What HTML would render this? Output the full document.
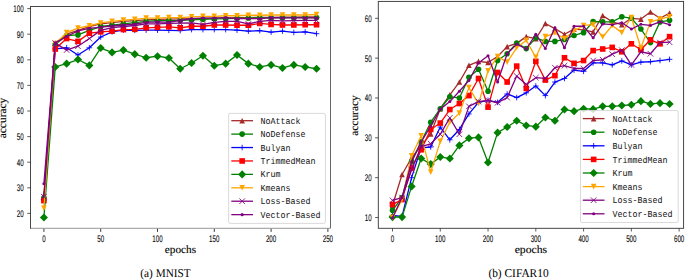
<!DOCTYPE html>
<html><head><meta charset="utf-8"><style>
html,body{margin:0;padding:0;background:#fff;}
body{width:685px;height:280px;overflow:hidden;}
svg{display:block;text-rendering:geometricPrecision;}
.tk{font-family:"Liberation Sans",sans-serif;font-size:9.6px;fill:#000;stroke:#000;stroke-width:0.1px;}
.lg{font-family:"Liberation Mono",monospace;font-size:9.1px;fill:#111;}
.lab{font-family:"Liberation Serif",serif;font-size:11.1px;fill:#000;stroke:#000;stroke-width:0.12px;}
.cap{font-family:"Liberation Serif",serif;font-size:12.0px;fill:#000;}
</style></head><body>
<svg width="685" height="280" viewBox="0 0 685 280">
<defs></defs>
<clipPath id="cl"><rect x="30.5" y="6.5" width="300.0" height="221.8"/></clipPath>
<clipPath id="cr"><rect x="378.3" y="1.4" width="305.3" height="226.9"/></clipPath>
<g clip-path="url(#cl)">
<path d="M43.90 194.97L55.26 43.16L66.62 34.20L77.98 30.36L89.34 26.52L100.70 23.96L112.06 22.68L123.42 21.40L134.78 20.63L146.14 19.86L157.50 19.35L168.86 19.10L180.22 18.84L191.58 18.58L202.94 18.33L214.30 18.07L225.66 17.82L237.02 17.56L248.38 17.56L259.74 17.30L271.10 17.30L282.46 17.05L293.82 17.05L305.18 16.79L316.54 16.79" stroke="#a52a2a" stroke-width="1.3" fill="none" stroke-linejoin="round" stroke-linecap="round"/>
<path d="M43.90 192.17L46.70 197.77L41.10 197.77Z" fill="#a52a2a"/>
<path d="M55.26 40.36L58.06 45.96L52.46 45.96Z" fill="#a52a2a"/>
<path d="M66.62 31.40L69.42 37.00L63.82 37.00Z" fill="#a52a2a"/>
<path d="M77.98 27.56L80.78 33.16L75.18 33.16Z" fill="#a52a2a"/>
<path d="M89.34 23.72L92.14 29.32L86.54 29.32Z" fill="#a52a2a"/>
<path d="M100.70 21.16L103.50 26.76L97.90 26.76Z" fill="#a52a2a"/>
<path d="M112.06 19.88L114.86 25.48L109.26 25.48Z" fill="#a52a2a"/>
<path d="M123.42 18.60L126.22 24.20L120.62 24.20Z" fill="#a52a2a"/>
<path d="M134.78 17.83L137.58 23.43L131.98 23.43Z" fill="#a52a2a"/>
<path d="M146.14 17.06L148.94 22.66L143.34 22.66Z" fill="#a52a2a"/>
<path d="M157.50 16.55L160.30 22.15L154.70 22.15Z" fill="#a52a2a"/>
<path d="M168.86 16.30L171.66 21.90L166.06 21.90Z" fill="#a52a2a"/>
<path d="M180.22 16.04L183.02 21.64L177.42 21.64Z" fill="#a52a2a"/>
<path d="M191.58 15.78L194.38 21.38L188.78 21.38Z" fill="#a52a2a"/>
<path d="M202.94 15.53L205.74 21.13L200.14 21.13Z" fill="#a52a2a"/>
<path d="M214.30 15.27L217.10 20.87L211.50 20.87Z" fill="#a52a2a"/>
<path d="M225.66 15.02L228.46 20.62L222.86 20.62Z" fill="#a52a2a"/>
<path d="M237.02 14.76L239.82 20.36L234.22 20.36Z" fill="#a52a2a"/>
<path d="M248.38 14.76L251.18 20.36L245.58 20.36Z" fill="#a52a2a"/>
<path d="M259.74 14.50L262.54 20.10L256.94 20.10Z" fill="#a52a2a"/>
<path d="M271.10 14.50L273.90 20.10L268.30 20.10Z" fill="#a52a2a"/>
<path d="M282.46 14.25L285.26 19.85L279.66 19.85Z" fill="#a52a2a"/>
<path d="M293.82 14.25L296.62 19.85L291.02 19.85Z" fill="#a52a2a"/>
<path d="M305.18 13.99L307.98 19.59L302.38 19.59Z" fill="#a52a2a"/>
<path d="M316.54 13.99L319.34 19.59L313.74 19.59Z" fill="#a52a2a"/>
<path d="M43.90 198.04L55.26 44.44L66.62 35.48L77.98 34.97L89.34 30.36L100.70 26.52L112.06 25.24L123.42 23.96L134.78 22.68L146.14 21.40L157.50 20.63L168.86 20.63L180.22 20.38L191.58 19.86L202.94 19.35L214.30 18.84L225.66 18.58L237.02 18.33L248.38 18.07L259.74 17.82L271.10 17.82L282.46 17.56L293.82 17.56L305.18 17.56L316.54 17.56" stroke="#008000" stroke-width="1.3" fill="none" stroke-linejoin="round" stroke-linecap="round"/>
<circle cx="43.90" cy="198.04" r="2.80" fill="#008000"/>
<circle cx="55.26" cy="44.44" r="2.80" fill="#008000"/>
<circle cx="66.62" cy="35.48" r="2.80" fill="#008000"/>
<circle cx="77.98" cy="34.97" r="2.80" fill="#008000"/>
<circle cx="89.34" cy="30.36" r="2.80" fill="#008000"/>
<circle cx="100.70" cy="26.52" r="2.80" fill="#008000"/>
<circle cx="112.06" cy="25.24" r="2.80" fill="#008000"/>
<circle cx="123.42" cy="23.96" r="2.80" fill="#008000"/>
<circle cx="134.78" cy="22.68" r="2.80" fill="#008000"/>
<circle cx="146.14" cy="21.40" r="2.80" fill="#008000"/>
<circle cx="157.50" cy="20.63" r="2.80" fill="#008000"/>
<circle cx="168.86" cy="20.63" r="2.80" fill="#008000"/>
<circle cx="180.22" cy="20.38" r="2.80" fill="#008000"/>
<circle cx="191.58" cy="19.86" r="2.80" fill="#008000"/>
<circle cx="202.94" cy="19.35" r="2.80" fill="#008000"/>
<circle cx="214.30" cy="18.84" r="2.80" fill="#008000"/>
<circle cx="225.66" cy="18.58" r="2.80" fill="#008000"/>
<circle cx="237.02" cy="18.33" r="2.80" fill="#008000"/>
<circle cx="248.38" cy="18.07" r="2.80" fill="#008000"/>
<circle cx="259.74" cy="17.82" r="2.80" fill="#008000"/>
<circle cx="271.10" cy="17.82" r="2.80" fill="#008000"/>
<circle cx="282.46" cy="17.56" r="2.80" fill="#008000"/>
<circle cx="293.82" cy="17.56" r="2.80" fill="#008000"/>
<circle cx="305.18" cy="17.56" r="2.80" fill="#008000"/>
<circle cx="316.54" cy="17.56" r="2.80" fill="#008000"/>
<path d="M43.90 200.60L55.26 48.79L66.62 47.77L77.98 54.94L89.34 47.77L100.70 37.02L112.06 31.90L123.42 30.10L134.78 30.36L146.14 30.10L157.50 30.10L168.86 30.36L180.22 30.62L191.58 29.59L202.94 29.59L214.30 29.59L225.66 29.59L237.02 30.10L248.38 31.13L259.74 30.62L271.10 32.15L282.46 31.13L293.82 32.41L305.18 31.90L316.54 33.69" stroke="#0000ff" stroke-width="1.3" fill="none" stroke-linejoin="round" stroke-linecap="round"/>
<path d="M41.10 200.60L46.70 200.60M43.90 197.80L43.90 203.40" stroke="#0000ff" stroke-width="0.85" fill="none"/>
<path d="M52.46 48.79L58.06 48.79M55.26 45.99L55.26 51.59" stroke="#0000ff" stroke-width="0.85" fill="none"/>
<path d="M63.82 47.77L69.42 47.77M66.62 44.97L66.62 50.57" stroke="#0000ff" stroke-width="0.85" fill="none"/>
<path d="M75.18 54.94L80.78 54.94M77.98 52.14L77.98 57.74" stroke="#0000ff" stroke-width="0.85" fill="none"/>
<path d="M86.54 47.77L92.14 47.77M89.34 44.97L89.34 50.57" stroke="#0000ff" stroke-width="0.85" fill="none"/>
<path d="M97.90 37.02L103.50 37.02M100.70 34.22L100.70 39.82" stroke="#0000ff" stroke-width="0.85" fill="none"/>
<path d="M109.26 31.90L114.86 31.90M112.06 29.10L112.06 34.70" stroke="#0000ff" stroke-width="0.85" fill="none"/>
<path d="M120.62 30.10L126.22 30.10M123.42 27.30L123.42 32.90" stroke="#0000ff" stroke-width="0.85" fill="none"/>
<path d="M131.98 30.36L137.58 30.36M134.78 27.56L134.78 33.16" stroke="#0000ff" stroke-width="0.85" fill="none"/>
<path d="M143.34 30.10L148.94 30.10M146.14 27.30L146.14 32.90" stroke="#0000ff" stroke-width="0.85" fill="none"/>
<path d="M154.70 30.10L160.30 30.10M157.50 27.30L157.50 32.90" stroke="#0000ff" stroke-width="0.85" fill="none"/>
<path d="M166.06 30.36L171.66 30.36M168.86 27.56L168.86 33.16" stroke="#0000ff" stroke-width="0.85" fill="none"/>
<path d="M177.42 30.62L183.02 30.62M180.22 27.82L180.22 33.42" stroke="#0000ff" stroke-width="0.85" fill="none"/>
<path d="M188.78 29.59L194.38 29.59M191.58 26.79L191.58 32.39" stroke="#0000ff" stroke-width="0.85" fill="none"/>
<path d="M200.14 29.59L205.74 29.59M202.94 26.79L202.94 32.39" stroke="#0000ff" stroke-width="0.85" fill="none"/>
<path d="M211.50 29.59L217.10 29.59M214.30 26.79L214.30 32.39" stroke="#0000ff" stroke-width="0.85" fill="none"/>
<path d="M222.86 29.59L228.46 29.59M225.66 26.79L225.66 32.39" stroke="#0000ff" stroke-width="0.85" fill="none"/>
<path d="M234.22 30.10L239.82 30.10M237.02 27.30L237.02 32.90" stroke="#0000ff" stroke-width="0.85" fill="none"/>
<path d="M245.58 31.13L251.18 31.13M248.38 28.33L248.38 33.93" stroke="#0000ff" stroke-width="0.85" fill="none"/>
<path d="M256.94 30.62L262.54 30.62M259.74 27.82L259.74 33.42" stroke="#0000ff" stroke-width="0.85" fill="none"/>
<path d="M268.30 32.15L273.90 32.15M271.10 29.35L271.10 34.95" stroke="#0000ff" stroke-width="0.85" fill="none"/>
<path d="M279.66 31.13L285.26 31.13M282.46 28.33L282.46 33.93" stroke="#0000ff" stroke-width="0.85" fill="none"/>
<path d="M291.02 32.41L296.62 32.41M293.82 29.61L293.82 35.21" stroke="#0000ff" stroke-width="0.85" fill="none"/>
<path d="M302.38 31.90L307.98 31.90M305.18 29.10L305.18 34.70" stroke="#0000ff" stroke-width="0.85" fill="none"/>
<path d="M313.74 33.69L319.34 33.69M316.54 30.89L316.54 36.49" stroke="#0000ff" stroke-width="0.85" fill="none"/>
<path d="M43.90 200.60L55.26 49.05L66.62 38.55L77.98 41.37L89.34 33.18L100.70 31.90L112.06 31.13L123.42 29.59L134.78 29.34L146.14 27.80L157.50 27.29L168.86 26.78L180.22 27.80L191.58 26.26L202.94 26.26L214.30 24.98L225.66 24.98L237.02 25.24L248.38 25.24L259.74 23.45L271.10 24.47L282.46 24.98L293.82 24.98L305.18 24.73L316.54 24.73" stroke="#ff0000" stroke-width="1.3" fill="none" stroke-linejoin="round" stroke-linecap="round"/>
<rect x="41.10" y="197.80" width="5.60" height="5.60" fill="#ff0000"/>
<rect x="52.46" y="46.25" width="5.60" height="5.60" fill="#ff0000"/>
<rect x="63.82" y="35.75" width="5.60" height="5.60" fill="#ff0000"/>
<rect x="75.18" y="38.57" width="5.60" height="5.60" fill="#ff0000"/>
<rect x="86.54" y="30.38" width="5.60" height="5.60" fill="#ff0000"/>
<rect x="97.90" y="29.10" width="5.60" height="5.60" fill="#ff0000"/>
<rect x="109.26" y="28.33" width="5.60" height="5.60" fill="#ff0000"/>
<rect x="120.62" y="26.79" width="5.60" height="5.60" fill="#ff0000"/>
<rect x="131.98" y="26.54" width="5.60" height="5.60" fill="#ff0000"/>
<rect x="143.34" y="25.00" width="5.60" height="5.60" fill="#ff0000"/>
<rect x="154.70" y="24.49" width="5.60" height="5.60" fill="#ff0000"/>
<rect x="166.06" y="23.98" width="5.60" height="5.60" fill="#ff0000"/>
<rect x="177.42" y="25.00" width="5.60" height="5.60" fill="#ff0000"/>
<rect x="188.78" y="23.46" width="5.60" height="5.60" fill="#ff0000"/>
<rect x="200.14" y="23.46" width="5.60" height="5.60" fill="#ff0000"/>
<rect x="211.50" y="22.18" width="5.60" height="5.60" fill="#ff0000"/>
<rect x="222.86" y="22.18" width="5.60" height="5.60" fill="#ff0000"/>
<rect x="234.22" y="22.44" width="5.60" height="5.60" fill="#ff0000"/>
<rect x="245.58" y="22.44" width="5.60" height="5.60" fill="#ff0000"/>
<rect x="256.94" y="20.65" width="5.60" height="5.60" fill="#ff0000"/>
<rect x="268.30" y="21.67" width="5.60" height="5.60" fill="#ff0000"/>
<rect x="279.66" y="22.18" width="5.60" height="5.60" fill="#ff0000"/>
<rect x="291.02" y="22.18" width="5.60" height="5.60" fill="#ff0000"/>
<rect x="302.38" y="21.93" width="5.60" height="5.60" fill="#ff0000"/>
<rect x="313.74" y="21.93" width="5.60" height="5.60" fill="#ff0000"/>
<path d="M43.90 217.50L55.26 66.97L66.62 63.64L77.98 59.54L89.34 65.43L100.70 48.02L112.06 52.38L123.42 50.07L134.78 54.17L146.14 57.75L157.50 56.22L168.86 58.01L180.22 68.76L191.58 63.00L202.94 55.70L214.30 65.69L225.66 63.64L237.02 54.94L248.38 63.64L259.74 66.97L271.10 64.92L282.46 67.99L293.82 64.92L305.18 66.97L316.54 68.76" stroke="#008000" stroke-width="1.3" fill="none" stroke-linejoin="round" stroke-linecap="round"/>
<path d="M43.90 213.44L47.96 217.50L43.90 221.56L39.84 217.50Z" fill="#008000"/>
<path d="M55.26 62.91L59.32 66.97L55.26 71.03L51.20 66.97Z" fill="#008000"/>
<path d="M66.62 59.58L70.68 63.64L66.62 67.70L62.56 63.64Z" fill="#008000"/>
<path d="M77.98 55.48L82.04 59.54L77.98 63.60L73.92 59.54Z" fill="#008000"/>
<path d="M89.34 61.37L93.40 65.43L89.34 69.49L85.28 65.43Z" fill="#008000"/>
<path d="M100.70 43.96L104.76 48.02L100.70 52.08L96.64 48.02Z" fill="#008000"/>
<path d="M112.06 48.32L116.12 52.38L112.06 56.44L108.00 52.38Z" fill="#008000"/>
<path d="M123.42 46.01L127.48 50.07L123.42 54.13L119.36 50.07Z" fill="#008000"/>
<path d="M134.78 50.11L138.84 54.17L134.78 58.23L130.72 54.17Z" fill="#008000"/>
<path d="M146.14 53.69L150.20 57.75L146.14 61.81L142.08 57.75Z" fill="#008000"/>
<path d="M157.50 52.16L161.56 56.22L157.50 60.28L153.44 56.22Z" fill="#008000"/>
<path d="M168.86 53.95L172.92 58.01L168.86 62.07L164.80 58.01Z" fill="#008000"/>
<path d="M180.22 64.70L184.28 68.76L180.22 72.82L176.16 68.76Z" fill="#008000"/>
<path d="M191.58 58.94L195.64 63.00L191.58 67.06L187.52 63.00Z" fill="#008000"/>
<path d="M202.94 51.64L207.00 55.70L202.94 59.76L198.88 55.70Z" fill="#008000"/>
<path d="M214.30 61.63L218.36 65.69L214.30 69.75L210.24 65.69Z" fill="#008000"/>
<path d="M225.66 59.58L229.72 63.64L225.66 67.70L221.60 63.64Z" fill="#008000"/>
<path d="M237.02 50.88L241.08 54.94L237.02 59.00L232.96 54.94Z" fill="#008000"/>
<path d="M248.38 59.58L252.44 63.64L248.38 67.70L244.32 63.64Z" fill="#008000"/>
<path d="M259.74 62.91L263.80 66.97L259.74 71.03L255.68 66.97Z" fill="#008000"/>
<path d="M271.10 60.86L275.16 64.92L271.10 68.98L267.04 64.92Z" fill="#008000"/>
<path d="M282.46 63.93L286.52 67.99L282.46 72.05L278.40 67.99Z" fill="#008000"/>
<path d="M293.82 60.86L297.88 64.92L293.82 68.98L289.76 64.92Z" fill="#008000"/>
<path d="M305.18 62.91L309.24 66.97L305.18 71.03L301.12 66.97Z" fill="#008000"/>
<path d="M316.54 64.70L320.60 68.76L316.54 72.82L312.48 68.76Z" fill="#008000"/>
<path d="M43.90 208.28L55.26 43.67L66.62 32.66L77.98 28.06L89.34 25.75L100.70 22.94L112.06 21.40L123.42 20.12L134.78 19.35L146.14 18.07L157.50 18.07L168.86 17.56L180.22 17.56L191.58 16.79L202.94 16.28L214.30 16.28L225.66 15.77L237.02 15.77L248.38 15.26L259.74 15.26L271.10 15.00L282.46 15.00L293.82 15.00L305.18 15.00L316.54 14.49" stroke="#ffa500" stroke-width="1.3" fill="none" stroke-linejoin="round" stroke-linecap="round"/>
<path d="M43.90 211.08L46.70 205.48L41.10 205.48Z" fill="#ffa500"/>
<path d="M55.26 46.47L58.06 40.87L52.46 40.87Z" fill="#ffa500"/>
<path d="M66.62 35.46L69.42 29.86L63.82 29.86Z" fill="#ffa500"/>
<path d="M77.98 30.86L80.78 25.26L75.18 25.26Z" fill="#ffa500"/>
<path d="M89.34 28.55L92.14 22.95L86.54 22.95Z" fill="#ffa500"/>
<path d="M100.70 25.74L103.50 20.14L97.90 20.14Z" fill="#ffa500"/>
<path d="M112.06 24.20L114.86 18.60L109.26 18.60Z" fill="#ffa500"/>
<path d="M123.42 22.92L126.22 17.32L120.62 17.32Z" fill="#ffa500"/>
<path d="M134.78 22.15L137.58 16.55L131.98 16.55Z" fill="#ffa500"/>
<path d="M146.14 20.87L148.94 15.27L143.34 15.27Z" fill="#ffa500"/>
<path d="M157.50 20.87L160.30 15.27L154.70 15.27Z" fill="#ffa500"/>
<path d="M168.86 20.36L171.66 14.76L166.06 14.76Z" fill="#ffa500"/>
<path d="M180.22 20.36L183.02 14.76L177.42 14.76Z" fill="#ffa500"/>
<path d="M191.58 19.59L194.38 13.99L188.78 13.99Z" fill="#ffa500"/>
<path d="M202.94 19.08L205.74 13.48L200.14 13.48Z" fill="#ffa500"/>
<path d="M214.30 19.08L217.10 13.48L211.50 13.48Z" fill="#ffa500"/>
<path d="M225.66 18.57L228.46 12.97L222.86 12.97Z" fill="#ffa500"/>
<path d="M237.02 18.57L239.82 12.97L234.22 12.97Z" fill="#ffa500"/>
<path d="M248.38 18.06L251.18 12.46L245.58 12.46Z" fill="#ffa500"/>
<path d="M259.74 18.06L262.54 12.46L256.94 12.46Z" fill="#ffa500"/>
<path d="M271.10 17.80L273.90 12.20L268.30 12.20Z" fill="#ffa500"/>
<path d="M282.46 17.80L285.26 12.20L279.66 12.20Z" fill="#ffa500"/>
<path d="M293.82 17.80L296.62 12.20L291.02 12.20Z" fill="#ffa500"/>
<path d="M305.18 17.80L307.98 12.20L302.38 12.20Z" fill="#ffa500"/>
<path d="M316.54 17.29L319.34 11.69L313.74 11.69Z" fill="#ffa500"/>
<path d="M43.90 196.76L55.26 43.16L66.62 50.07L77.98 46.23L89.34 38.55L100.70 30.36L112.06 27.54L123.42 26.52L134.78 25.50L146.14 23.96L157.50 23.96L168.86 23.45L180.22 23.19L191.58 22.94L202.94 24.47L214.30 22.42L225.66 21.40L237.02 21.40L248.38 23.96L259.74 21.40L271.10 20.38L282.46 20.89L293.82 20.63L305.18 20.38L316.54 20.38" stroke="#800080" stroke-width="1.3" fill="none" stroke-linejoin="round" stroke-linecap="round"/>
<path d="M41.10 193.96L46.70 199.56M41.10 199.56L46.70 193.96" stroke="#800080" stroke-width="0.85" fill="none"/>
<path d="M52.46 40.36L58.06 45.96M52.46 45.96L58.06 40.36" stroke="#800080" stroke-width="0.85" fill="none"/>
<path d="M63.82 47.27L69.42 52.87M63.82 52.87L69.42 47.27" stroke="#800080" stroke-width="0.85" fill="none"/>
<path d="M75.18 43.43L80.78 49.03M75.18 49.03L80.78 43.43" stroke="#800080" stroke-width="0.85" fill="none"/>
<path d="M86.54 35.75L92.14 41.35M86.54 41.35L92.14 35.75" stroke="#800080" stroke-width="0.85" fill="none"/>
<path d="M97.90 27.56L103.50 33.16M97.90 33.16L103.50 27.56" stroke="#800080" stroke-width="0.85" fill="none"/>
<path d="M109.26 24.74L114.86 30.34M109.26 30.34L114.86 24.74" stroke="#800080" stroke-width="0.85" fill="none"/>
<path d="M120.62 23.72L126.22 29.32M120.62 29.32L126.22 23.72" stroke="#800080" stroke-width="0.85" fill="none"/>
<path d="M131.98 22.70L137.58 28.30M131.98 28.30L137.58 22.70" stroke="#800080" stroke-width="0.85" fill="none"/>
<path d="M143.34 21.16L148.94 26.76M143.34 26.76L148.94 21.16" stroke="#800080" stroke-width="0.85" fill="none"/>
<path d="M154.70 21.16L160.30 26.76M154.70 26.76L160.30 21.16" stroke="#800080" stroke-width="0.85" fill="none"/>
<path d="M166.06 20.65L171.66 26.25M166.06 26.25L171.66 20.65" stroke="#800080" stroke-width="0.85" fill="none"/>
<path d="M177.42 20.39L183.02 25.99M177.42 25.99L183.02 20.39" stroke="#800080" stroke-width="0.85" fill="none"/>
<path d="M188.78 20.14L194.38 25.74M188.78 25.74L194.38 20.14" stroke="#800080" stroke-width="0.85" fill="none"/>
<path d="M200.14 21.67L205.74 27.27M200.14 27.27L205.74 21.67" stroke="#800080" stroke-width="0.85" fill="none"/>
<path d="M211.50 19.62L217.10 25.22M211.50 25.22L217.10 19.62" stroke="#800080" stroke-width="0.85" fill="none"/>
<path d="M222.86 18.60L228.46 24.20M222.86 24.20L228.46 18.60" stroke="#800080" stroke-width="0.85" fill="none"/>
<path d="M234.22 18.60L239.82 24.20M234.22 24.20L239.82 18.60" stroke="#800080" stroke-width="0.85" fill="none"/>
<path d="M245.58 21.16L251.18 26.76M245.58 26.76L251.18 21.16" stroke="#800080" stroke-width="0.85" fill="none"/>
<path d="M256.94 18.60L262.54 24.20M256.94 24.20L262.54 18.60" stroke="#800080" stroke-width="0.85" fill="none"/>
<path d="M268.30 17.58L273.90 23.18M268.30 23.18L273.90 17.58" stroke="#800080" stroke-width="0.85" fill="none"/>
<path d="M279.66 18.09L285.26 23.69M279.66 23.69L285.26 18.09" stroke="#800080" stroke-width="0.85" fill="none"/>
<path d="M291.02 17.83L296.62 23.43M291.02 23.43L296.62 17.83" stroke="#800080" stroke-width="0.85" fill="none"/>
<path d="M302.38 17.58L307.98 23.18M302.38 23.18L307.98 17.58" stroke="#800080" stroke-width="0.85" fill="none"/>
<path d="M313.74 17.58L319.34 23.18M313.74 23.18L319.34 17.58" stroke="#800080" stroke-width="0.85" fill="none"/>
<path d="M43.90 183.70L55.26 42.90L66.62 36.50L77.98 30.87L89.34 28.31L100.70 27.03L112.06 26.01L123.42 24.98L134.78 24.22L146.14 22.42L157.50 21.91L168.86 22.42L180.22 20.38L191.58 18.58L202.94 18.07L214.30 18.07L225.66 17.56L237.02 18.58L248.38 18.58L259.74 18.58L271.10 17.56L282.46 17.82L293.82 17.82L305.18 17.82L316.54 17.82" stroke="#800080" stroke-width="1.3" fill="none" stroke-linejoin="round" stroke-linecap="round"/>
<circle cx="43.90" cy="183.70" r="1.54" fill="#800080"/>
<circle cx="55.26" cy="42.90" r="1.54" fill="#800080"/>
<circle cx="66.62" cy="36.50" r="1.54" fill="#800080"/>
<circle cx="77.98" cy="30.87" r="1.54" fill="#800080"/>
<circle cx="89.34" cy="28.31" r="1.54" fill="#800080"/>
<circle cx="100.70" cy="27.03" r="1.54" fill="#800080"/>
<circle cx="112.06" cy="26.01" r="1.54" fill="#800080"/>
<circle cx="123.42" cy="24.98" r="1.54" fill="#800080"/>
<circle cx="134.78" cy="24.22" r="1.54" fill="#800080"/>
<circle cx="146.14" cy="22.42" r="1.54" fill="#800080"/>
<circle cx="157.50" cy="21.91" r="1.54" fill="#800080"/>
<circle cx="168.86" cy="22.42" r="1.54" fill="#800080"/>
<circle cx="180.22" cy="20.38" r="1.54" fill="#800080"/>
<circle cx="191.58" cy="18.58" r="1.54" fill="#800080"/>
<circle cx="202.94" cy="18.07" r="1.54" fill="#800080"/>
<circle cx="214.30" cy="18.07" r="1.54" fill="#800080"/>
<circle cx="225.66" cy="17.56" r="1.54" fill="#800080"/>
<circle cx="237.02" cy="18.58" r="1.54" fill="#800080"/>
<circle cx="248.38" cy="18.58" r="1.54" fill="#800080"/>
<circle cx="259.74" cy="18.58" r="1.54" fill="#800080"/>
<circle cx="271.10" cy="17.56" r="1.54" fill="#800080"/>
<circle cx="282.46" cy="17.82" r="1.54" fill="#800080"/>
<circle cx="293.82" cy="17.82" r="1.54" fill="#800080"/>
<circle cx="305.18" cy="17.82" r="1.54" fill="#800080"/>
<circle cx="316.54" cy="17.82" r="1.54" fill="#800080"/>
</g>
<rect x="228.6" y="113.4" width="96.8" height="110.0" rx="1.5" fill="#ffffff" fill-opacity="0.8" stroke="#d6d6d6" stroke-width="0.9"/>
<path d="M231.3 120.70L253.0 120.70" stroke="#a52a2a" stroke-width="1.3"/>
<path d="M242.15 117.90L244.95 123.50L239.35 123.50Z" fill="#a52a2a"/>
<text x="260.4" y="123.80" class="lg" textLength="40.00" lengthAdjust="spacingAndGlyphs">NoAttack</text>
<path d="M231.3 134.12L253.0 134.12" stroke="#008000" stroke-width="1.3"/>
<circle cx="242.15" cy="134.12" r="2.80" fill="#008000"/>
<text x="260.4" y="137.22" class="lg" textLength="45.00" lengthAdjust="spacingAndGlyphs">NoDefense</text>
<path d="M231.3 147.54L253.0 147.54" stroke="#0000ff" stroke-width="1.3"/>
<path d="M239.35 147.54L244.95 147.54M242.15 144.74L242.15 150.34" stroke="#0000ff" stroke-width="0.85" fill="none"/>
<text x="260.4" y="150.64" class="lg" textLength="30.00" lengthAdjust="spacingAndGlyphs">Bulyan</text>
<path d="M231.3 160.96L253.0 160.96" stroke="#ff0000" stroke-width="1.3"/>
<rect x="239.35" y="158.16" width="5.60" height="5.60" fill="#ff0000"/>
<text x="260.4" y="164.06" class="lg" textLength="55.00" lengthAdjust="spacingAndGlyphs">TrimmedMean</text>
<path d="M231.3 174.38L253.0 174.38" stroke="#008000" stroke-width="1.3"/>
<path d="M242.15 170.32L246.21 174.38L242.15 178.44L238.09 174.38Z" fill="#008000"/>
<text x="260.4" y="177.48" class="lg" textLength="20.00" lengthAdjust="spacingAndGlyphs">Krum</text>
<path d="M231.3 187.80L253.0 187.80" stroke="#ffa500" stroke-width="1.3"/>
<path d="M242.15 190.60L244.95 185.00L239.35 185.00Z" fill="#ffa500"/>
<text x="260.4" y="190.90" class="lg" textLength="30.00" lengthAdjust="spacingAndGlyphs">Kmeans</text>
<path d="M231.3 201.22L253.0 201.22" stroke="#800080" stroke-width="1.3"/>
<path d="M239.35 198.42L244.95 204.02M239.35 204.02L244.95 198.42" stroke="#800080" stroke-width="0.85" fill="none"/>
<text x="260.4" y="204.32" class="lg" textLength="50.00" lengthAdjust="spacingAndGlyphs">Loss-Based</text>
<path d="M231.3 214.64L253.0 214.64" stroke="#800080" stroke-width="1.3"/>
<circle cx="242.15" cy="214.64" r="1.54" fill="#800080"/>
<text x="260.4" y="217.74" class="lg" textLength="60.00" lengthAdjust="spacingAndGlyphs">Vector-Based</text>
<path d="M30.5 6.5H330.5" stroke="#333" stroke-width="0.9" fill="none"/>
<path d="M330.5 6.5V228.3" stroke="#555" stroke-width="0.9" fill="none"/>
<path d="M30.5 228.3H330.5" stroke="#8a8a8a" stroke-width="0.9" fill="none"/>
<path d="M30.5 6.05V228.75" stroke="#333" stroke-width="0.9" fill="none"/>
<path d="M27.3 213.40H30.5" stroke="#333" stroke-width="0.8"/>
<text x="16.70" y="216.80" class="tk" textLength="6.90" lengthAdjust="spacingAndGlyphs">20</text>
<path d="M27.3 187.80H30.5" stroke="#333" stroke-width="0.8"/>
<text x="16.70" y="191.20" class="tk" textLength="6.90" lengthAdjust="spacingAndGlyphs">30</text>
<path d="M27.3 162.20H30.5" stroke="#333" stroke-width="0.8"/>
<text x="16.70" y="165.60" class="tk" textLength="6.90" lengthAdjust="spacingAndGlyphs">40</text>
<path d="M27.3 136.60H30.5" stroke="#333" stroke-width="0.8"/>
<text x="16.70" y="140.00" class="tk" textLength="6.90" lengthAdjust="spacingAndGlyphs">50</text>
<path d="M27.3 111.00H30.5" stroke="#333" stroke-width="0.8"/>
<text x="16.70" y="114.40" class="tk" textLength="6.90" lengthAdjust="spacingAndGlyphs">60</text>
<path d="M27.3 85.40H30.5" stroke="#333" stroke-width="0.8"/>
<text x="16.70" y="88.80" class="tk" textLength="6.90" lengthAdjust="spacingAndGlyphs">70</text>
<path d="M27.3 59.80H30.5" stroke="#333" stroke-width="0.8"/>
<text x="16.70" y="63.20" class="tk" textLength="6.90" lengthAdjust="spacingAndGlyphs">80</text>
<path d="M27.3 34.20H30.5" stroke="#333" stroke-width="0.8"/>
<text x="16.70" y="37.60" class="tk" textLength="6.90" lengthAdjust="spacingAndGlyphs">90</text>
<path d="M27.3 8.60H30.5" stroke="#333" stroke-width="0.8"/>
<text x="13.25" y="12.00" class="tk" textLength="10.35" lengthAdjust="spacingAndGlyphs">100</text>
<path d="M43.90 228.8V231.9" stroke="#222" stroke-width="0.9"/>
<text x="42.17" y="241.60" class="tk" textLength="3.45" lengthAdjust="spacingAndGlyphs">0</text>
<path d="M100.70 228.8V231.9" stroke="#222" stroke-width="0.9"/>
<text x="97.25" y="241.60" class="tk" textLength="6.90" lengthAdjust="spacingAndGlyphs">50</text>
<path d="M157.50 228.8V231.9" stroke="#222" stroke-width="0.9"/>
<text x="152.32" y="241.60" class="tk" textLength="10.35" lengthAdjust="spacingAndGlyphs">100</text>
<path d="M214.30 228.8V231.9" stroke="#222" stroke-width="0.9"/>
<text x="209.12" y="241.60" class="tk" textLength="10.35" lengthAdjust="spacingAndGlyphs">150</text>
<path d="M271.10 228.8V231.9" stroke="#222" stroke-width="0.9"/>
<text x="265.92" y="241.60" class="tk" textLength="10.35" lengthAdjust="spacingAndGlyphs">200</text>
<path d="M327.90 228.8V231.9" stroke="#222" stroke-width="0.9"/>
<text x="322.72" y="241.60" class="tk" textLength="10.35" lengthAdjust="spacingAndGlyphs">250</text>
<text x="180.5" y="253.2" class="lab" text-anchor="middle" textLength="31.3" lengthAdjust="spacingAndGlyphs">epochs</text>
<text transform="translate(6.3 118.0) rotate(-90)" class="lab" text-anchor="middle" x="0" y="0" textLength="40.6" lengthAdjust="spacingAndGlyphs">accuracy</text>
<text x="165.5" y="276.8" class="cap" text-anchor="middle" textLength="50.3" lengthAdjust="spacingAndGlyphs">(a) MNIST</text>
<g clip-path="url(#cr)">
<path d="M392.50 205.55L402.05 174.47L411.61 157.74L421.16 145.79L430.72 133.84L440.27 108.74L449.82 94.79L459.38 82.04L468.93 65.31L478.49 61.33L488.04 62.52L497.59 56.55L507.15 46.59L516.70 43.40L526.26 36.63L535.81 38.62L545.36 23.48L554.92 28.66L564.47 34.24L574.03 29.06L583.58 29.85L593.13 31.85L602.69 15.51L612.24 21.89L621.80 24.67L631.35 18.30L640.90 19.10L650.46 11.93L660.01 18.30L669.57 13.12" stroke="#a52a2a" stroke-width="1.3" fill="none" stroke-linejoin="round" stroke-linecap="round"/>
<path d="M392.50 202.75L395.30 208.35L389.70 208.35Z" fill="#a52a2a"/>
<path d="M402.05 171.67L404.85 177.27L399.25 177.27Z" fill="#a52a2a"/>
<path d="M411.61 154.94L414.41 160.54L408.81 160.54Z" fill="#a52a2a"/>
<path d="M421.16 142.99L423.96 148.59L418.36 148.59Z" fill="#a52a2a"/>
<path d="M430.72 131.04L433.52 136.64L427.92 136.64Z" fill="#a52a2a"/>
<path d="M440.27 105.94L443.07 111.54L437.47 111.54Z" fill="#a52a2a"/>
<path d="M449.82 91.99L452.62 97.59L447.02 97.59Z" fill="#a52a2a"/>
<path d="M459.38 79.24L462.18 84.84L456.58 84.84Z" fill="#a52a2a"/>
<path d="M468.93 62.51L471.73 68.11L466.13 68.11Z" fill="#a52a2a"/>
<path d="M478.49 58.53L481.29 64.13L475.69 64.13Z" fill="#a52a2a"/>
<path d="M488.04 59.72L490.84 65.32L485.24 65.32Z" fill="#a52a2a"/>
<path d="M497.59 53.75L500.39 59.35L494.79 59.35Z" fill="#a52a2a"/>
<path d="M507.15 43.79L509.95 49.39L504.35 49.39Z" fill="#a52a2a"/>
<path d="M516.70 40.60L519.50 46.20L513.90 46.20Z" fill="#a52a2a"/>
<path d="M526.26 33.83L529.06 39.43L523.46 39.43Z" fill="#a52a2a"/>
<path d="M535.81 35.82L538.61 41.42L533.01 41.42Z" fill="#a52a2a"/>
<path d="M545.36 20.68L548.16 26.28L542.56 26.28Z" fill="#a52a2a"/>
<path d="M554.92 25.86L557.72 31.46L552.12 31.46Z" fill="#a52a2a"/>
<path d="M564.47 31.44L567.27 37.04L561.67 37.04Z" fill="#a52a2a"/>
<path d="M574.03 26.26L576.83 31.86L571.23 31.86Z" fill="#a52a2a"/>
<path d="M583.58 27.05L586.38 32.65L580.78 32.65Z" fill="#a52a2a"/>
<path d="M593.13 29.05L595.93 34.65L590.33 34.65Z" fill="#a52a2a"/>
<path d="M602.69 12.71L605.49 18.31L599.89 18.31Z" fill="#a52a2a"/>
<path d="M612.24 19.09L615.04 24.69L609.44 24.69Z" fill="#a52a2a"/>
<path d="M621.80 21.87L624.60 27.47L619.00 27.47Z" fill="#a52a2a"/>
<path d="M631.35 15.50L634.15 21.10L628.55 21.10Z" fill="#a52a2a"/>
<path d="M640.90 16.30L643.70 21.90L638.10 21.90Z" fill="#a52a2a"/>
<path d="M650.46 9.13L653.26 14.73L647.66 14.73Z" fill="#a52a2a"/>
<path d="M660.01 15.50L662.81 21.10L657.21 21.10Z" fill="#a52a2a"/>
<path d="M669.57 10.32L672.37 15.92L666.77 15.92Z" fill="#a52a2a"/>
<path d="M392.50 210.33L402.05 197.58L411.61 161.72L421.16 141.80L430.72 122.28L440.27 108.74L449.82 96.78L459.38 97.98L468.93 77.26L478.49 69.30L488.04 91.21L497.59 60.53L507.15 53.76L516.70 43.00L526.26 48.58L535.81 37.82L545.36 41.41L554.92 41.41L564.47 39.42L574.03 35.43L583.58 32.64L593.13 21.49L602.69 21.89L612.24 21.89L621.80 16.71L631.35 18.30L640.90 29.06L650.46 42.60L660.01 21.89L669.57 20.29" stroke="#008000" stroke-width="1.3" fill="none" stroke-linejoin="round" stroke-linecap="round"/>
<circle cx="392.50" cy="210.33" r="2.80" fill="#008000"/>
<circle cx="402.05" cy="197.58" r="2.80" fill="#008000"/>
<circle cx="411.61" cy="161.72" r="2.80" fill="#008000"/>
<circle cx="421.16" cy="141.80" r="2.80" fill="#008000"/>
<circle cx="430.72" cy="122.28" r="2.80" fill="#008000"/>
<circle cx="440.27" cy="108.74" r="2.80" fill="#008000"/>
<circle cx="449.82" cy="96.78" r="2.80" fill="#008000"/>
<circle cx="459.38" cy="97.98" r="2.80" fill="#008000"/>
<circle cx="468.93" cy="77.26" r="2.80" fill="#008000"/>
<circle cx="478.49" cy="69.30" r="2.80" fill="#008000"/>
<circle cx="488.04" cy="91.21" r="2.80" fill="#008000"/>
<circle cx="497.59" cy="60.53" r="2.80" fill="#008000"/>
<circle cx="507.15" cy="53.76" r="2.80" fill="#008000"/>
<circle cx="516.70" cy="43.00" r="2.80" fill="#008000"/>
<circle cx="526.26" cy="48.58" r="2.80" fill="#008000"/>
<circle cx="535.81" cy="37.82" r="2.80" fill="#008000"/>
<circle cx="545.36" cy="41.41" r="2.80" fill="#008000"/>
<circle cx="554.92" cy="41.41" r="2.80" fill="#008000"/>
<circle cx="564.47" cy="39.42" r="2.80" fill="#008000"/>
<circle cx="574.03" cy="35.43" r="2.80" fill="#008000"/>
<circle cx="583.58" cy="32.64" r="2.80" fill="#008000"/>
<circle cx="593.13" cy="21.49" r="2.80" fill="#008000"/>
<circle cx="602.69" cy="21.89" r="2.80" fill="#008000"/>
<circle cx="612.24" cy="21.89" r="2.80" fill="#008000"/>
<circle cx="621.80" cy="16.71" r="2.80" fill="#008000"/>
<circle cx="631.35" cy="18.30" r="2.80" fill="#008000"/>
<circle cx="640.90" cy="29.06" r="2.80" fill="#008000"/>
<circle cx="650.46" cy="42.60" r="2.80" fill="#008000"/>
<circle cx="660.01" cy="21.89" r="2.80" fill="#008000"/>
<circle cx="669.57" cy="20.29" r="2.80" fill="#008000"/>
<path d="M392.50 215.51L402.05 216.30L411.61 177.66L421.16 147.78L430.72 146.98L440.27 127.06L449.82 139.81L459.38 129.45L468.93 113.92L478.49 102.36L488.04 100.37L497.59 102.36L507.15 94.00L516.70 97.58L526.26 92.80L535.81 86.03L545.36 95.59L554.92 82.04L564.47 78.46L574.03 70.09L583.58 71.29L593.13 62.92L602.69 62.92L612.24 64.91L621.80 60.93L631.35 64.91L640.90 62.12L650.46 61.73L660.01 60.53L669.57 59.34" stroke="#0000ff" stroke-width="1.3" fill="none" stroke-linejoin="round" stroke-linecap="round"/>
<path d="M389.70 215.51L395.30 215.51M392.50 212.71L392.50 218.31" stroke="#0000ff" stroke-width="0.85" fill="none"/>
<path d="M399.25 216.30L404.85 216.30M402.05 213.50L402.05 219.10" stroke="#0000ff" stroke-width="0.85" fill="none"/>
<path d="M408.81 177.66L414.41 177.66M411.61 174.86L411.61 180.46" stroke="#0000ff" stroke-width="0.85" fill="none"/>
<path d="M418.36 147.78L423.96 147.78M421.16 144.98L421.16 150.58" stroke="#0000ff" stroke-width="0.85" fill="none"/>
<path d="M427.92 146.98L433.52 146.98M430.72 144.18L430.72 149.78" stroke="#0000ff" stroke-width="0.85" fill="none"/>
<path d="M437.47 127.06L443.07 127.06M440.27 124.26L440.27 129.86" stroke="#0000ff" stroke-width="0.85" fill="none"/>
<path d="M447.02 139.81L452.62 139.81M449.82 137.01L449.82 142.61" stroke="#0000ff" stroke-width="0.85" fill="none"/>
<path d="M456.58 129.45L462.18 129.45M459.38 126.65L459.38 132.25" stroke="#0000ff" stroke-width="0.85" fill="none"/>
<path d="M466.13 113.92L471.73 113.92M468.93 111.12L468.93 116.72" stroke="#0000ff" stroke-width="0.85" fill="none"/>
<path d="M475.69 102.36L481.29 102.36M478.49 99.56L478.49 105.16" stroke="#0000ff" stroke-width="0.85" fill="none"/>
<path d="M485.24 100.37L490.84 100.37M488.04 97.57L488.04 103.17" stroke="#0000ff" stroke-width="0.85" fill="none"/>
<path d="M494.79 102.36L500.39 102.36M497.59 99.56L497.59 105.16" stroke="#0000ff" stroke-width="0.85" fill="none"/>
<path d="M504.35 94.00L509.95 94.00M507.15 91.20L507.15 96.80" stroke="#0000ff" stroke-width="0.85" fill="none"/>
<path d="M513.90 97.58L519.50 97.58M516.70 94.78L516.70 100.38" stroke="#0000ff" stroke-width="0.85" fill="none"/>
<path d="M523.46 92.80L529.06 92.80M526.26 90.00L526.26 95.60" stroke="#0000ff" stroke-width="0.85" fill="none"/>
<path d="M533.01 86.03L538.61 86.03M535.81 83.23L535.81 88.83" stroke="#0000ff" stroke-width="0.85" fill="none"/>
<path d="M542.56 95.59L548.16 95.59M545.36 92.79L545.36 98.39" stroke="#0000ff" stroke-width="0.85" fill="none"/>
<path d="M552.12 82.04L557.72 82.04M554.92 79.24L554.92 84.84" stroke="#0000ff" stroke-width="0.85" fill="none"/>
<path d="M561.67 78.46L567.27 78.46M564.47 75.66L564.47 81.26" stroke="#0000ff" stroke-width="0.85" fill="none"/>
<path d="M571.23 70.09L576.83 70.09M574.03 67.29L574.03 72.89" stroke="#0000ff" stroke-width="0.85" fill="none"/>
<path d="M580.78 71.29L586.38 71.29M583.58 68.49L583.58 74.09" stroke="#0000ff" stroke-width="0.85" fill="none"/>
<path d="M590.33 62.92L595.93 62.92M593.13 60.12L593.13 65.72" stroke="#0000ff" stroke-width="0.85" fill="none"/>
<path d="M599.89 62.92L605.49 62.92M602.69 60.12L602.69 65.72" stroke="#0000ff" stroke-width="0.85" fill="none"/>
<path d="M609.44 64.91L615.04 64.91M612.24 62.11L612.24 67.71" stroke="#0000ff" stroke-width="0.85" fill="none"/>
<path d="M619.00 60.93L624.60 60.93M621.80 58.13L621.80 63.73" stroke="#0000ff" stroke-width="0.85" fill="none"/>
<path d="M628.55 64.91L634.15 64.91M631.35 62.11L631.35 67.71" stroke="#0000ff" stroke-width="0.85" fill="none"/>
<path d="M638.10 62.12L643.70 62.12M640.90 59.32L640.90 64.92" stroke="#0000ff" stroke-width="0.85" fill="none"/>
<path d="M647.66 61.73L653.26 61.73M650.46 58.93L650.46 64.53" stroke="#0000ff" stroke-width="0.85" fill="none"/>
<path d="M657.21 60.53L662.81 60.53M660.01 57.73L660.01 63.33" stroke="#0000ff" stroke-width="0.85" fill="none"/>
<path d="M666.77 59.34L672.37 59.34M669.57 56.54L669.57 62.14" stroke="#0000ff" stroke-width="0.85" fill="none"/>
<path d="M392.50 204.35L402.05 199.57L411.61 167.70L421.16 149.77L430.72 129.45L440.27 123.08L449.82 109.53L459.38 103.56L468.93 95.59L478.49 78.46L488.04 107.14L497.59 72.48L507.15 82.04L516.70 66.11L526.26 88.42L535.81 61.33L545.36 80.05L554.92 75.67L564.47 57.74L574.03 63.32L583.58 60.53L593.13 50.57L602.69 48.98L612.24 47.38L621.80 51.77L631.35 43.80L640.90 49.77L650.46 39.81L660.01 43.80L669.57 36.63" stroke="#ff0000" stroke-width="1.3" fill="none" stroke-linejoin="round" stroke-linecap="round"/>
<rect x="389.70" y="201.55" width="5.60" height="5.60" fill="#ff0000"/>
<rect x="399.25" y="196.77" width="5.60" height="5.60" fill="#ff0000"/>
<rect x="408.81" y="164.90" width="5.60" height="5.60" fill="#ff0000"/>
<rect x="418.36" y="146.97" width="5.60" height="5.60" fill="#ff0000"/>
<rect x="427.92" y="126.65" width="5.60" height="5.60" fill="#ff0000"/>
<rect x="437.47" y="120.28" width="5.60" height="5.60" fill="#ff0000"/>
<rect x="447.02" y="106.73" width="5.60" height="5.60" fill="#ff0000"/>
<rect x="456.58" y="100.76" width="5.60" height="5.60" fill="#ff0000"/>
<rect x="466.13" y="92.79" width="5.60" height="5.60" fill="#ff0000"/>
<rect x="475.69" y="75.66" width="5.60" height="5.60" fill="#ff0000"/>
<rect x="485.24" y="104.34" width="5.60" height="5.60" fill="#ff0000"/>
<rect x="494.79" y="69.68" width="5.60" height="5.60" fill="#ff0000"/>
<rect x="504.35" y="79.24" width="5.60" height="5.60" fill="#ff0000"/>
<rect x="513.90" y="63.31" width="5.60" height="5.60" fill="#ff0000"/>
<rect x="523.46" y="85.62" width="5.60" height="5.60" fill="#ff0000"/>
<rect x="533.01" y="58.53" width="5.60" height="5.60" fill="#ff0000"/>
<rect x="542.56" y="77.25" width="5.60" height="5.60" fill="#ff0000"/>
<rect x="552.12" y="72.87" width="5.60" height="5.60" fill="#ff0000"/>
<rect x="561.67" y="54.94" width="5.60" height="5.60" fill="#ff0000"/>
<rect x="571.23" y="60.52" width="5.60" height="5.60" fill="#ff0000"/>
<rect x="580.78" y="57.73" width="5.60" height="5.60" fill="#ff0000"/>
<rect x="590.33" y="47.77" width="5.60" height="5.60" fill="#ff0000"/>
<rect x="599.89" y="46.18" width="5.60" height="5.60" fill="#ff0000"/>
<rect x="609.44" y="44.58" width="5.60" height="5.60" fill="#ff0000"/>
<rect x="619.00" y="48.97" width="5.60" height="5.60" fill="#ff0000"/>
<rect x="628.55" y="41.00" width="5.60" height="5.60" fill="#ff0000"/>
<rect x="638.10" y="46.97" width="5.60" height="5.60" fill="#ff0000"/>
<rect x="647.66" y="37.01" width="5.60" height="5.60" fill="#ff0000"/>
<rect x="657.21" y="41.00" width="5.60" height="5.60" fill="#ff0000"/>
<rect x="666.77" y="33.83" width="5.60" height="5.60" fill="#ff0000"/>
<path d="M392.50 217.10L402.05 217.10L411.61 186.42L421.16 158.54L430.72 164.11L440.27 156.94L449.82 158.54L459.38 145.39L468.93 138.22L478.49 137.42L488.04 162.52L497.59 132.64L507.15 127.06L516.70 120.69L526.26 125.47L535.81 126.66L545.36 117.50L554.92 120.69L564.47 109.53L574.03 111.13L583.58 108.74L593.13 109.14L602.69 106.35L612.24 106.35L621.80 105.55L631.35 104.75L640.90 101.17L650.46 103.96L660.01 103.16L669.57 103.96" stroke="#008000" stroke-width="1.3" fill="none" stroke-linejoin="round" stroke-linecap="round"/>
<path d="M392.50 213.04L396.56 217.10L392.50 221.16L388.44 217.10Z" fill="#008000"/>
<path d="M402.05 213.04L406.11 217.10L402.05 221.16L397.99 217.10Z" fill="#008000"/>
<path d="M411.61 182.36L415.67 186.42L411.61 190.48L407.55 186.42Z" fill="#008000"/>
<path d="M421.16 154.48L425.22 158.54L421.16 162.60L417.10 158.54Z" fill="#008000"/>
<path d="M430.72 160.05L434.78 164.11L430.72 168.17L426.66 164.11Z" fill="#008000"/>
<path d="M440.27 152.88L444.33 156.94L440.27 161.00L436.21 156.94Z" fill="#008000"/>
<path d="M449.82 154.48L453.88 158.54L449.82 162.60L445.76 158.54Z" fill="#008000"/>
<path d="M459.38 141.33L463.44 145.39L459.38 149.45L455.32 145.39Z" fill="#008000"/>
<path d="M468.93 134.16L472.99 138.22L468.93 142.28L464.87 138.22Z" fill="#008000"/>
<path d="M478.49 133.36L482.55 137.42L478.49 141.48L474.43 137.42Z" fill="#008000"/>
<path d="M488.04 158.46L492.10 162.52L488.04 166.58L483.98 162.52Z" fill="#008000"/>
<path d="M497.59 128.58L501.65 132.64L497.59 136.70L493.53 132.64Z" fill="#008000"/>
<path d="M507.15 123.00L511.21 127.06L507.15 131.12L503.09 127.06Z" fill="#008000"/>
<path d="M516.70 116.63L520.76 120.69L516.70 124.75L512.64 120.69Z" fill="#008000"/>
<path d="M526.26 121.41L530.32 125.47L526.26 129.53L522.20 125.47Z" fill="#008000"/>
<path d="M535.81 122.60L539.87 126.66L535.81 130.72L531.75 126.66Z" fill="#008000"/>
<path d="M545.36 113.44L549.42 117.50L545.36 121.56L541.30 117.50Z" fill="#008000"/>
<path d="M554.92 116.63L558.98 120.69L554.92 124.75L550.86 120.69Z" fill="#008000"/>
<path d="M564.47 105.47L568.53 109.53L564.47 113.59L560.41 109.53Z" fill="#008000"/>
<path d="M574.03 107.07L578.09 111.13L574.03 115.19L569.97 111.13Z" fill="#008000"/>
<path d="M583.58 104.68L587.64 108.74L583.58 112.80L579.52 108.74Z" fill="#008000"/>
<path d="M593.13 105.08L597.19 109.14L593.13 113.20L589.07 109.14Z" fill="#008000"/>
<path d="M602.69 102.29L606.75 106.35L602.69 110.41L598.63 106.35Z" fill="#008000"/>
<path d="M612.24 102.29L616.30 106.35L612.24 110.41L608.18 106.35Z" fill="#008000"/>
<path d="M621.80 101.49L625.86 105.55L621.80 109.61L617.74 105.55Z" fill="#008000"/>
<path d="M631.35 100.69L635.41 104.75L631.35 108.81L627.29 104.75Z" fill="#008000"/>
<path d="M640.90 97.11L644.96 101.17L640.90 105.23L636.84 101.17Z" fill="#008000"/>
<path d="M650.46 99.90L654.52 103.96L650.46 108.02L646.40 103.96Z" fill="#008000"/>
<path d="M660.01 99.10L664.07 103.16L660.01 107.22L655.95 103.16Z" fill="#008000"/>
<path d="M669.57 99.90L673.63 103.96L669.57 108.02L665.51 103.96Z" fill="#008000"/>
<path d="M392.50 217.50L402.05 199.57L411.61 155.75L421.16 135.83L430.72 172.08L440.27 141.41L449.82 122.28L459.38 113.12L468.93 87.62L478.49 103.56L488.04 70.89L497.59 56.55L507.15 62.12L516.70 47.78L526.26 40.21L535.81 57.34L545.36 36.63L554.92 33.04L564.47 38.62L574.03 31.05L583.58 25.47L593.13 24.67L602.69 37.02L612.24 25.47L621.80 32.64L631.35 17.50L640.90 47.78L650.46 21.89L660.01 19.10L669.57 16.71" stroke="#ffa500" stroke-width="1.3" fill="none" stroke-linejoin="round" stroke-linecap="round"/>
<path d="M392.50 220.30L395.30 214.70L389.70 214.70Z" fill="#ffa500"/>
<path d="M402.05 202.37L404.85 196.77L399.25 196.77Z" fill="#ffa500"/>
<path d="M411.61 158.55L414.41 152.95L408.81 152.95Z" fill="#ffa500"/>
<path d="M421.16 138.63L423.96 133.03L418.36 133.03Z" fill="#ffa500"/>
<path d="M430.72 174.88L433.52 169.28L427.92 169.28Z" fill="#ffa500"/>
<path d="M440.27 144.21L443.07 138.61L437.47 138.61Z" fill="#ffa500"/>
<path d="M449.82 125.08L452.62 119.48L447.02 119.48Z" fill="#ffa500"/>
<path d="M459.38 115.92L462.18 110.32L456.58 110.32Z" fill="#ffa500"/>
<path d="M468.93 90.42L471.73 84.82L466.13 84.82Z" fill="#ffa500"/>
<path d="M478.49 106.36L481.29 100.76L475.69 100.76Z" fill="#ffa500"/>
<path d="M488.04 73.69L490.84 68.09L485.24 68.09Z" fill="#ffa500"/>
<path d="M497.59 59.35L500.39 53.75L494.79 53.75Z" fill="#ffa500"/>
<path d="M507.15 64.92L509.95 59.32L504.35 59.32Z" fill="#ffa500"/>
<path d="M516.70 50.58L519.50 44.98L513.90 44.98Z" fill="#ffa500"/>
<path d="M526.26 43.01L529.06 37.41L523.46 37.41Z" fill="#ffa500"/>
<path d="M535.81 60.14L538.61 54.54L533.01 54.54Z" fill="#ffa500"/>
<path d="M545.36 39.43L548.16 33.83L542.56 33.83Z" fill="#ffa500"/>
<path d="M554.92 35.84L557.72 30.24L552.12 30.24Z" fill="#ffa500"/>
<path d="M564.47 41.42L567.27 35.82L561.67 35.82Z" fill="#ffa500"/>
<path d="M574.03 33.85L576.83 28.25L571.23 28.25Z" fill="#ffa500"/>
<path d="M583.58 28.27L586.38 22.67L580.78 22.67Z" fill="#ffa500"/>
<path d="M593.13 27.47L595.93 21.87L590.33 21.87Z" fill="#ffa500"/>
<path d="M602.69 39.82L605.49 34.22L599.89 34.22Z" fill="#ffa500"/>
<path d="M612.24 28.27L615.04 22.67L609.44 22.67Z" fill="#ffa500"/>
<path d="M621.80 35.44L624.60 29.84L619.00 29.84Z" fill="#ffa500"/>
<path d="M631.35 20.30L634.15 14.70L628.55 14.70Z" fill="#ffa500"/>
<path d="M640.90 50.58L643.70 44.98L638.10 44.98Z" fill="#ffa500"/>
<path d="M650.46 24.69L653.26 19.09L647.66 19.09Z" fill="#ffa500"/>
<path d="M660.01 21.90L662.81 16.30L657.21 16.30Z" fill="#ffa500"/>
<path d="M669.57 19.51L672.37 13.91L666.77 13.91Z" fill="#ffa500"/>
<path d="M392.50 200.37L402.05 197.58L411.61 169.69L421.16 146.58L430.72 143.80L440.27 134.23L449.82 117.90L459.38 134.23L468.93 106.35L478.49 101.57L488.04 100.37L497.59 102.76L507.15 97.58L516.70 76.07L526.26 84.43L535.81 77.66L545.36 78.46L554.92 67.70L564.47 65.71L574.03 68.50L583.58 68.50L593.13 60.53L602.69 59.73L612.24 54.16L621.80 50.17L631.35 64.91L640.90 51.77L650.46 53.76L660.01 42.60L669.57 42.20" stroke="#800080" stroke-width="1.3" fill="none" stroke-linejoin="round" stroke-linecap="round"/>
<path d="M389.70 197.57L395.30 203.17M389.70 203.17L395.30 197.57" stroke="#800080" stroke-width="0.85" fill="none"/>
<path d="M399.25 194.78L404.85 200.38M399.25 200.38L404.85 194.78" stroke="#800080" stroke-width="0.85" fill="none"/>
<path d="M408.81 166.89L414.41 172.49M408.81 172.49L414.41 166.89" stroke="#800080" stroke-width="0.85" fill="none"/>
<path d="M418.36 143.78L423.96 149.38M418.36 149.38L423.96 143.78" stroke="#800080" stroke-width="0.85" fill="none"/>
<path d="M427.92 141.00L433.52 146.60M427.92 146.60L433.52 141.00" stroke="#800080" stroke-width="0.85" fill="none"/>
<path d="M437.47 131.43L443.07 137.03M437.47 137.03L443.07 131.43" stroke="#800080" stroke-width="0.85" fill="none"/>
<path d="M447.02 115.10L452.62 120.70M447.02 120.70L452.62 115.10" stroke="#800080" stroke-width="0.85" fill="none"/>
<path d="M456.58 131.43L462.18 137.03M456.58 137.03L462.18 131.43" stroke="#800080" stroke-width="0.85" fill="none"/>
<path d="M466.13 103.55L471.73 109.15M466.13 109.15L471.73 103.55" stroke="#800080" stroke-width="0.85" fill="none"/>
<path d="M475.69 98.77L481.29 104.37M475.69 104.37L481.29 98.77" stroke="#800080" stroke-width="0.85" fill="none"/>
<path d="M485.24 97.57L490.84 103.17M485.24 103.17L490.84 97.57" stroke="#800080" stroke-width="0.85" fill="none"/>
<path d="M494.79 99.96L500.39 105.56M494.79 105.56L500.39 99.96" stroke="#800080" stroke-width="0.85" fill="none"/>
<path d="M504.35 94.78L509.95 100.38M504.35 100.38L509.95 94.78" stroke="#800080" stroke-width="0.85" fill="none"/>
<path d="M513.90 73.27L519.50 78.87M513.90 78.87L519.50 73.27" stroke="#800080" stroke-width="0.85" fill="none"/>
<path d="M523.46 81.63L529.06 87.23M523.46 87.23L529.06 81.63" stroke="#800080" stroke-width="0.85" fill="none"/>
<path d="M533.01 74.86L538.61 80.46M533.01 80.46L538.61 74.86" stroke="#800080" stroke-width="0.85" fill="none"/>
<path d="M542.56 75.66L548.16 81.26M542.56 81.26L548.16 75.66" stroke="#800080" stroke-width="0.85" fill="none"/>
<path d="M552.12 64.90L557.72 70.50M552.12 70.50L557.72 64.90" stroke="#800080" stroke-width="0.85" fill="none"/>
<path d="M561.67 62.91L567.27 68.51M561.67 68.51L567.27 62.91" stroke="#800080" stroke-width="0.85" fill="none"/>
<path d="M571.23 65.70L576.83 71.30M571.23 71.30L576.83 65.70" stroke="#800080" stroke-width="0.85" fill="none"/>
<path d="M580.78 65.70L586.38 71.30M580.78 71.30L586.38 65.70" stroke="#800080" stroke-width="0.85" fill="none"/>
<path d="M590.33 57.73L595.93 63.33M590.33 63.33L595.93 57.73" stroke="#800080" stroke-width="0.85" fill="none"/>
<path d="M599.89 56.93L605.49 62.53M599.89 62.53L605.49 56.93" stroke="#800080" stroke-width="0.85" fill="none"/>
<path d="M609.44 51.36L615.04 56.96M609.44 56.96L615.04 51.36" stroke="#800080" stroke-width="0.85" fill="none"/>
<path d="M619.00 47.37L624.60 52.97M619.00 52.97L624.60 47.37" stroke="#800080" stroke-width="0.85" fill="none"/>
<path d="M628.55 62.11L634.15 67.71M628.55 67.71L634.15 62.11" stroke="#800080" stroke-width="0.85" fill="none"/>
<path d="M638.10 48.97L643.70 54.57M638.10 54.57L643.70 48.97" stroke="#800080" stroke-width="0.85" fill="none"/>
<path d="M647.66 50.96L653.26 56.56M647.66 56.56L653.26 50.96" stroke="#800080" stroke-width="0.85" fill="none"/>
<path d="M657.21 39.80L662.81 45.40M657.21 45.40L662.81 39.80" stroke="#800080" stroke-width="0.85" fill="none"/>
<path d="M666.77 39.40L672.37 45.00M666.77 45.00L672.37 39.40" stroke="#800080" stroke-width="0.85" fill="none"/>
<path d="M392.50 217.90L402.05 197.58L411.61 161.72L421.16 141.80L430.72 126.27L440.27 109.14L449.82 101.57L459.38 91.21L468.93 80.45L478.49 62.92L488.04 55.75L497.59 82.04L507.15 53.76L516.70 44.20L526.26 48.98L535.81 34.24L545.36 48.58L554.92 27.86L564.47 47.78L574.03 26.27L583.58 26.27L593.13 37.82L602.69 23.88L612.24 24.67L621.80 22.68L631.35 29.06L640.90 24.28L650.46 25.47L660.01 21.89L669.57 24.67" stroke="#800080" stroke-width="1.3" fill="none" stroke-linejoin="round" stroke-linecap="round"/>
<circle cx="392.50" cy="217.90" r="1.54" fill="#800080"/>
<circle cx="402.05" cy="197.58" r="1.54" fill="#800080"/>
<circle cx="411.61" cy="161.72" r="1.54" fill="#800080"/>
<circle cx="421.16" cy="141.80" r="1.54" fill="#800080"/>
<circle cx="430.72" cy="126.27" r="1.54" fill="#800080"/>
<circle cx="440.27" cy="109.14" r="1.54" fill="#800080"/>
<circle cx="449.82" cy="101.57" r="1.54" fill="#800080"/>
<circle cx="459.38" cy="91.21" r="1.54" fill="#800080"/>
<circle cx="468.93" cy="80.45" r="1.54" fill="#800080"/>
<circle cx="478.49" cy="62.92" r="1.54" fill="#800080"/>
<circle cx="488.04" cy="55.75" r="1.54" fill="#800080"/>
<circle cx="497.59" cy="82.04" r="1.54" fill="#800080"/>
<circle cx="507.15" cy="53.76" r="1.54" fill="#800080"/>
<circle cx="516.70" cy="44.20" r="1.54" fill="#800080"/>
<circle cx="526.26" cy="48.98" r="1.54" fill="#800080"/>
<circle cx="535.81" cy="34.24" r="1.54" fill="#800080"/>
<circle cx="545.36" cy="48.58" r="1.54" fill="#800080"/>
<circle cx="554.92" cy="27.86" r="1.54" fill="#800080"/>
<circle cx="564.47" cy="47.78" r="1.54" fill="#800080"/>
<circle cx="574.03" cy="26.27" r="1.54" fill="#800080"/>
<circle cx="583.58" cy="26.27" r="1.54" fill="#800080"/>
<circle cx="593.13" cy="37.82" r="1.54" fill="#800080"/>
<circle cx="602.69" cy="23.88" r="1.54" fill="#800080"/>
<circle cx="612.24" cy="24.67" r="1.54" fill="#800080"/>
<circle cx="621.80" cy="22.68" r="1.54" fill="#800080"/>
<circle cx="631.35" cy="29.06" r="1.54" fill="#800080"/>
<circle cx="640.90" cy="24.28" r="1.54" fill="#800080"/>
<circle cx="650.46" cy="25.47" r="1.54" fill="#800080"/>
<circle cx="660.01" cy="21.89" r="1.54" fill="#800080"/>
<circle cx="669.57" cy="24.67" r="1.54" fill="#800080"/>
</g>
<rect x="580.5" y="110.5" width="97.7" height="112.0" rx="1.5" fill="#ffffff" fill-opacity="0.8" stroke="#d6d6d6" stroke-width="0.9"/>
<path d="M582.8 118.60L604.5 118.60" stroke="#a52a2a" stroke-width="1.3"/>
<path d="M593.65 115.80L596.45 121.40L590.85 121.40Z" fill="#a52a2a"/>
<text x="612.4" y="121.70" class="lg" textLength="40.00" lengthAdjust="spacingAndGlyphs">NoAttack</text>
<path d="M582.8 132.20L604.5 132.20" stroke="#008000" stroke-width="1.3"/>
<circle cx="593.65" cy="132.20" r="2.80" fill="#008000"/>
<text x="612.4" y="135.30" class="lg" textLength="45.00" lengthAdjust="spacingAndGlyphs">NoDefense</text>
<path d="M582.8 145.80L604.5 145.80" stroke="#0000ff" stroke-width="1.3"/>
<path d="M590.85 145.80L596.45 145.80M593.65 143.00L593.65 148.60" stroke="#0000ff" stroke-width="0.85" fill="none"/>
<text x="612.4" y="148.90" class="lg" textLength="30.00" lengthAdjust="spacingAndGlyphs">Bulyan</text>
<path d="M582.8 159.40L604.5 159.40" stroke="#ff0000" stroke-width="1.3"/>
<rect x="590.85" y="156.60" width="5.60" height="5.60" fill="#ff0000"/>
<text x="612.4" y="162.50" class="lg" textLength="55.00" lengthAdjust="spacingAndGlyphs">TrimmedMean</text>
<path d="M582.8 173.00L604.5 173.00" stroke="#008000" stroke-width="1.3"/>
<path d="M593.65 168.94L597.71 173.00L593.65 177.06L589.59 173.00Z" fill="#008000"/>
<text x="612.4" y="176.10" class="lg" textLength="20.00" lengthAdjust="spacingAndGlyphs">Krum</text>
<path d="M582.8 186.60L604.5 186.60" stroke="#ffa500" stroke-width="1.3"/>
<path d="M593.65 189.40L596.45 183.80L590.85 183.80Z" fill="#ffa500"/>
<text x="612.4" y="189.70" class="lg" textLength="30.00" lengthAdjust="spacingAndGlyphs">Kmeans</text>
<path d="M582.8 200.20L604.5 200.20" stroke="#800080" stroke-width="1.3"/>
<path d="M590.85 197.40L596.45 203.00M590.85 203.00L596.45 197.40" stroke="#800080" stroke-width="0.85" fill="none"/>
<text x="612.4" y="203.30" class="lg" textLength="50.00" lengthAdjust="spacingAndGlyphs">Loss-Based</text>
<path d="M582.8 213.80L604.5 213.80" stroke="#800080" stroke-width="1.3"/>
<circle cx="593.65" cy="213.80" r="1.54" fill="#800080"/>
<text x="612.4" y="216.90" class="lg" textLength="60.00" lengthAdjust="spacingAndGlyphs">Vector-Based</text>
<rect x="378.3" y="1.4" width="305.3" height="226.9" fill="none" stroke="#333" stroke-width="0.9"/>
<path d="M375.1 217.50H378.3" stroke="#333" stroke-width="0.8"/>
<text x="364.80" y="220.90" class="tk" textLength="6.90" lengthAdjust="spacingAndGlyphs">10</text>
<path d="M375.1 177.66H378.3" stroke="#333" stroke-width="0.8"/>
<text x="364.80" y="181.06" class="tk" textLength="6.90" lengthAdjust="spacingAndGlyphs">20</text>
<path d="M375.1 137.82H378.3" stroke="#333" stroke-width="0.8"/>
<text x="364.80" y="141.22" class="tk" textLength="6.90" lengthAdjust="spacingAndGlyphs">30</text>
<path d="M375.1 97.98H378.3" stroke="#333" stroke-width="0.8"/>
<text x="364.80" y="101.38" class="tk" textLength="6.90" lengthAdjust="spacingAndGlyphs">40</text>
<path d="M375.1 58.14H378.3" stroke="#333" stroke-width="0.8"/>
<text x="364.80" y="61.54" class="tk" textLength="6.90" lengthAdjust="spacingAndGlyphs">50</text>
<path d="M375.1 18.30H378.3" stroke="#333" stroke-width="0.8"/>
<text x="364.80" y="21.70" class="tk" textLength="6.90" lengthAdjust="spacingAndGlyphs">60</text>
<path d="M392.50 228.3V231.5" stroke="#333" stroke-width="0.8"/>
<text x="390.77" y="241.60" class="tk" textLength="3.45" lengthAdjust="spacingAndGlyphs">0</text>
<path d="M440.27 228.3V231.5" stroke="#333" stroke-width="0.8"/>
<text x="435.09" y="241.60" class="tk" textLength="10.35" lengthAdjust="spacingAndGlyphs">100</text>
<path d="M488.04 228.3V231.5" stroke="#333" stroke-width="0.8"/>
<text x="482.87" y="241.60" class="tk" textLength="10.35" lengthAdjust="spacingAndGlyphs">200</text>
<path d="M535.81 228.3V231.5" stroke="#333" stroke-width="0.8"/>
<text x="530.63" y="241.60" class="tk" textLength="10.35" lengthAdjust="spacingAndGlyphs">300</text>
<path d="M583.58 228.3V231.5" stroke="#333" stroke-width="0.8"/>
<text x="578.41" y="241.60" class="tk" textLength="10.35" lengthAdjust="spacingAndGlyphs">400</text>
<path d="M631.35 228.3V231.5" stroke="#333" stroke-width="0.8"/>
<text x="626.18" y="241.60" class="tk" textLength="10.35" lengthAdjust="spacingAndGlyphs">500</text>
<path d="M679.12 228.3V231.5" stroke="#333" stroke-width="0.8"/>
<text x="673.95" y="241.60" class="tk" textLength="10.35" lengthAdjust="spacingAndGlyphs">600</text>
<text x="530.9" y="253.0" class="lab" text-anchor="middle" textLength="32.5" lengthAdjust="spacingAndGlyphs">epochs</text>
<text transform="translate(358.3 115.5) rotate(-90)" class="lab" text-anchor="middle" x="0" y="0" textLength="40.5" lengthAdjust="spacingAndGlyphs">accuracy</text>
<text x="518.5" y="276.8" class="cap" text-anchor="middle" textLength="60.2" lengthAdjust="spacingAndGlyphs">(b) CIFAR10</text>
</svg>
</body></html>
